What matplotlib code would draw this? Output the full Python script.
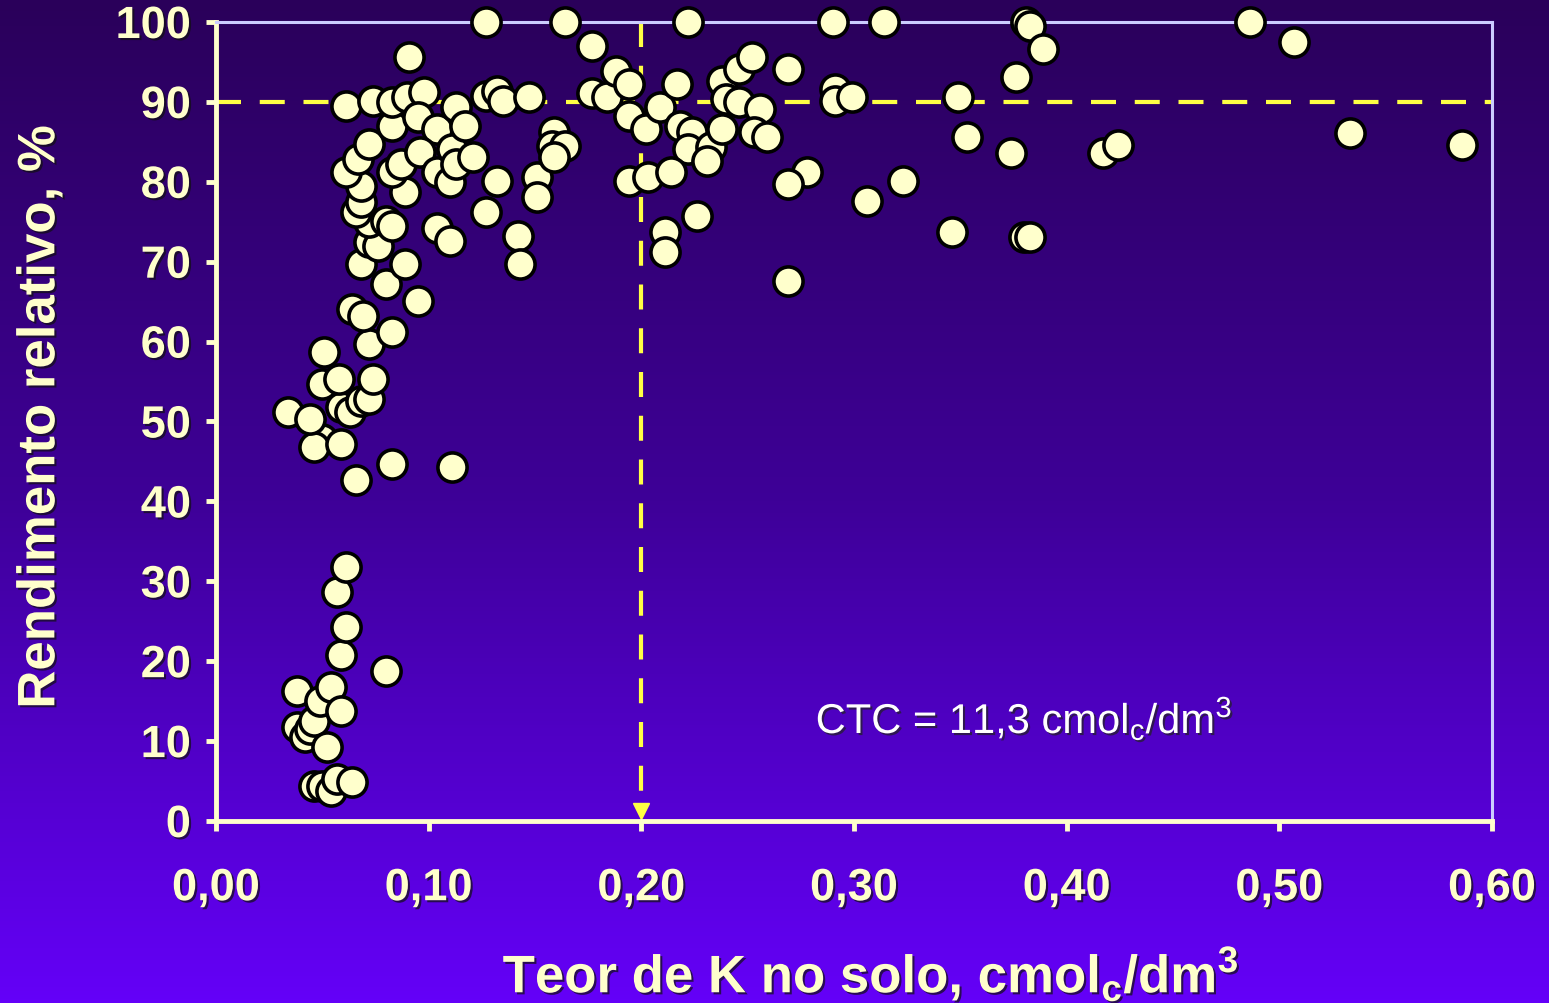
import matplotlib

matplotlib.use("Agg")
import matplotlib.pyplot as plt
import matplotlib.patheffects as pe
import numpy as np
from matplotlib.colors import LinearSegmentedColormap

plt.rcParams["font.family"] = ["Liberation Sans", "DejaVu Sans"]
plt.rcParams["mathtext.fontset"] = "custom"
plt.rcParams["mathtext.rm"] = "Liberation Sans"
plt.rcParams["mathtext.bf"] = "Liberation Sans:bold"

# K content in soil (cmolc/dm3) vs relative yield (%)
k_soil = [
    0.034, 0.038, 0.038, 0.042, 0.044, 0.046, 0.046, 0.050, 0.054, 0.057,
    0.064, 0.052, 0.049, 0.054, 0.059, 0.059, 0.061, 0.057, 0.061, 0.080,
    0.066, 0.083, 0.111, 0.050, 0.046, 0.059, 0.044, 0.059, 0.063, 0.068,
    0.072, 0.050, 0.058, 0.074, 0.051, 0.072, 0.083, 0.064, 0.069, 0.095,
    0.080, 0.068, 0.089, 0.072, 0.076, 0.072, 0.080, 0.083, 0.066, 0.068,
    0.068, 0.089, 0.061, 0.067, 0.083, 0.087, 0.072, 0.083, 0.061, 0.074,
    0.083, 0.090, 0.098, 0.091, 0.095, 0.104, 0.096, 0.104, 0.110, 0.111,
    0.113, 0.121, 0.113, 0.117, 0.127, 0.127, 0.132, 0.135, 0.147, 0.132,
    0.127, 0.104, 0.110, 0.142, 0.143, 0.151, 0.151, 0.159, 0.158, 0.164,
    0.159, 0.164, 0.177, 0.177, 0.184, 0.188, 0.194, 0.194, 0.202, 0.209,
    0.217, 0.218, 0.224, 0.222, 0.233, 0.231, 0.238, 0.238, 0.246, 0.252,
    0.240, 0.246, 0.256, 0.253, 0.259, 0.269, 0.222, 0.290, 0.291, 0.291,
    0.299, 0.194, 0.203, 0.214, 0.278, 0.269, 0.306, 0.226, 0.211, 0.211,
    0.269, 0.314, 0.381, 0.383, 0.389, 0.376, 0.349, 0.353, 0.374, 0.417,
    0.424, 0.323, 0.346, 0.380, 0.383, 0.486, 0.507, 0.533, 0.586,
]
rend_rel = [
    51.2, 16.3, 11.8, 10.5, 11.5, 12.5, 4.4, 4.4, 3.8, 5.3,
    4.9, 9.3, 15.0, 16.8, 13.8, 20.8, 24.3, 28.7, 31.8, 18.8,
    42.7, 44.7, 44.3, 47.8, 46.8, 47.2, 50.3, 51.8, 51.2, 52.6,
    52.8, 54.7, 55.3, 55.3, 58.7, 59.7, 61.2, 64.1, 63.2, 65.1,
    67.2, 69.7, 69.7, 72.5, 72.0, 75.0, 75.1, 74.5, 76.2, 77.5,
    79.5, 78.7, 81.2, 82.9, 81.2, 82.2, 84.7, 87.0, 89.5, 90.1,
    90.0, 90.6, 91.2, 95.6, 88.1, 86.6, 83.7, 81.2, 80.0, 84.1,
    82.2, 83.1, 89.4, 87.0, 100.0, 90.7, 91.4, 90.1, 90.6, 80.1,
    76.2, 74.2, 72.6, 73.2, 69.7, 80.6, 78.1, 86.2, 84.5, 84.5,
    83.1, 100.0, 97.0, 91.1, 90.6, 93.9, 92.2, 88.2, 86.6, 89.4,
    92.2, 87.0, 86.2, 84.1, 84.4, 82.6, 86.6, 92.6, 94.1, 95.6,
    90.4, 90.0, 89.1, 86.2, 85.6, 94.1, 100.0, 100.0, 91.6, 90.1,
    90.6, 80.1, 80.6, 81.2, 81.2, 79.7, 77.6, 75.7, 73.7, 71.2,
    67.6, 100.0, 100.0, 99.5, 96.6, 93.1, 90.6, 85.6, 83.6, 83.6,
    84.6, 80.1, 73.7, 73.1, 73.1, 100.0, 97.5, 86.1, 84.6,
]

x_ticks = [0.0, 0.1, 0.2, 0.3, 0.4, 0.5, 0.6]
x_ticklabels = ["0,00", "0,10", "0,20", "0,30", "0,40", "0,50", "0,60"]
y_ticks = list(range(0, 101, 10))

k_critical = 0.20
yield_target = 90

LIGHT = "#ffffcc"
LINE_YELLOW = "#ffff44"
FRAME = "#ccccff"

fig = plt.figure(figsize=(15.49, 10.04), dpi=100)

# background gradient
bg = fig.add_axes([0, 0, 1, 1], zorder=-10)
cmap = LinearSegmentedColormap.from_list("bg", ["#2a005a", "#3e0098", "#6400f8"])
bg.imshow(np.linspace(0, 1, 256).reshape(-1, 1), aspect="auto", cmap=cmap,
          extent=[0, 1, 0, 1])
bg.axis("off")

ax = fig.add_axes([0.1394, 0.1813, 0.8238, 0.7958])
ax.set_facecolor("none")
ax.set_xlim(0, 0.6)
ax.set_ylim(0, 100)

ax.axhline(yield_target, color=LINE_YELLOW, lw=3, ls=(0, (6, 4.5)), zorder=2)
ax.plot([k_critical, k_critical], [100, 2.5], color=LINE_YELLOW, lw=3,
        ls=(0, (6, 4.5)), zorder=2)
ax.plot([k_critical], [1.3], marker="v", color=LINE_YELLOW, ms=11, zorder=2,
        clip_on=False)

ax.scatter(k_soil, rend_rel, s=440, facecolor=LIGHT, edgecolor="black",
           linewidths=2.6, zorder=3, clip_on=False)

for side in ["left", "bottom"]:
    ax.spines[side].set_color(LIGHT)
    ax.spines[side].set_linewidth(3.5)
for side in ["top", "right"]:
    ax.spines[side].set_color(FRAME)
    ax.spines[side].set_linewidth(2.2)

shadow = [pe.SimplePatchShadow(offset=(1.5, -1.5), shadow_rgbFace="#111111", alpha=0.7),
          pe.Normal()]

ax.set_xticks(x_ticks)
ax.set_xticklabels(x_ticklabels)
ax.set_yticks(y_ticks)
ax.tick_params(axis="both", colors=LIGHT, direction="out", length=7, width=3.5,
               labelsize=32.5)
ax.tick_params(axis="x", pad=27)
ax.tick_params(axis="y", pad=11)
for lab in ax.get_xticklabels() + ax.get_yticklabels():
    lab.set_fontweight("bold")
    lab.set_color(LIGHT)
    lab.set_path_effects(shadow)

ax.set_xlabel(r"Teor de K no solo, cmol$_\mathbf{c}$/dm$^\mathbf{3}$",
              fontsize=38, fontweight="bold", color=LIGHT, path_effects=shadow)
ax.xaxis.set_label_coords(0.513, -0.155)
ax.set_ylabel("Rendimento relativo, %", fontsize=38, fontweight="bold",
              color=LIGHT, path_effects=shadow)
ax.yaxis.set_label_coords(-0.118, 0.505)

ax.text(0.282, 12.8, r"CTC = 11,3 cmol$_\mathrm{c}$/dm$^\mathrm{3}$", fontsize=30,
        color="white", va="center", ha="left",
        path_effects=[pe.SimplePatchShadow(offset=(1.5, -1.5),
                                           shadow_rgbFace="#222222", alpha=0.7),
                      pe.Normal()])

fig.savefig("out.png", dpi=100)
